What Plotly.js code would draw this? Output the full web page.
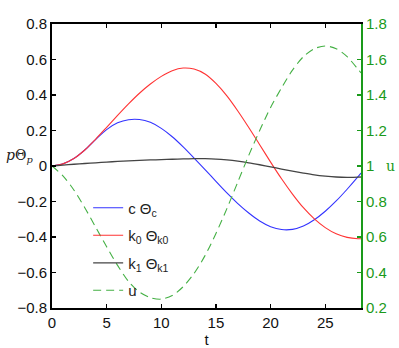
<!DOCTYPE html>
<html>
<head>
<meta charset="utf-8">
<script src="https://cdn.plot.ly/plotly-3.0.1.min.js"></script>
<style>html,body{margin:0;padding:0;background:#fff;}#chart{width:399px;height:348px;}</style>
</head>
<body>
<div id="chart"></div>
<script>
const t = [0,1,2,3,4,5,6,7,8,9,10,11,12,13,14,15,16,17,18,19,20,21,22,23,24,25,26,27,28,28.27];
const cTheta = [0,0.012,0.042,0.09,0.15,0.205,0.243,0.261,0.262,0.246,0.212,0.165,0.108,0.045,-0.02,-0.087,-0.152,-0.212,-0.265,-0.31,-0.342,-0.358,-0.357,-0.338,-0.303,-0.255,-0.197,-0.131,-0.06,-0.04];
const k0Theta = [0,0.012,0.042,0.09,0.152,0.218,0.285,0.35,0.41,0.462,0.505,0.537,0.552,0.546,0.518,0.465,0.395,0.31,0.217,0.12,0.022,-0.072,-0.158,-0.235,-0.298,-0.347,-0.382,-0.402,-0.41,-0.41];
const k1Theta = [0,0.005,0.01,0.014,0.018,0.022,0.026,0.029,0.032,0.034,0.036,0.038,0.04,0.041,0.041,0.039,0.034,0.027,0.018,0.007,-0.005,-0.017,-0.029,-0.04,-0.05,-0.057,-0.062,-0.064,-0.063,-0.062];
const u = [1.0,0.945,0.865,0.765,0.655,0.545,0.44,0.35,0.29,0.258,0.25,0.27,0.32,0.395,0.495,0.62,0.76,0.91,1.06,1.20,1.33,1.44,1.54,1.616,1.661,1.676,1.661,1.616,1.545,1.525];
const names = ["c Θ<sub>c</sub>","k<sub>0</sub> Θ<sub>k0</sub>","k<sub>1</sub> Θ<sub>k1</sub>","u"];
const xTicks = [0,5,10,15,20,25];
const yTicks = [-0.8,-0.6,-0.4,-0.2,0,0.2,0.4,0.6,0.8];
const y2Ticks = [0.2,0.4,0.6,0.8,1,1.2,1.4,1.6,1.8];

const green = '#1a9a1a';
const traces = [
  {x:t, y:cTheta, name:names[0], legendgroup:'a', mode:'lines', line:{color:'#3333ff', width:1.1, shape:'spline', smoothing:0.8}},
  {x:t, y:k0Theta, name:names[1], legendgroup:'b', mode:'lines', line:{color:'#ff3333', width:1.1, shape:'spline', smoothing:0.8}},
  {x:t, y:k1Theta, name:names[2], legendgroup:'c', mode:'lines', line:{color:'#444444', width:1.3, shape:'spline', smoothing:0.8}},
  {x:t, y:u, name:names[3], legendgroup:'d', mode:'lines', yaxis:'y2', line:{color:'#44b044', width:1.1, dash:'8px,5px', shape:'spline', smoothing:0.8}}
];
const tickFont = {family:'Liberation Sans, Arial, sans-serif', size:15, color:'#111'};
const layout = {
  width:399, height:348,
  margin:{l:52, r:38, t:24, b:40},
  paper_bgcolor:'#fff', plot_bgcolor:'#fff',
  showlegend:true,
  legend:{x:0.117, y:0.41, xanchor:'left', yanchor:'top', bgcolor:'rgba(0,0,0,0)', borderwidth:0,
          tracegroupgap:5,
          font:{family:'Liberation Sans, Arial, sans-serif', size:15, color:'#222'}},
  xaxis:{range:[0,28.27], tickvals:xTicks, ticks:'inside', ticklen:4, tickwidth:1.2, tickcolor:'#000',
         showline:true, linewidth:2, linecolor:'#000', mirror:'ticks', showgrid:false, zeroline:false,
         tickfont:tickFont,
         title:{text:'t', font:{family:'Liberation Sans, Arial, sans-serif', size:15, color:'#111'}, standoff:5}},
  yaxis:{range:[-0.8,0.8], tickvals:yTicks, ticks:'inside', ticklen:4, tickwidth:1.2, tickcolor:'#000',
         showline:true, linewidth:2, linecolor:'#000', showgrid:false, zeroline:false, tickfont:tickFont},
  yaxis2:{range:[0.2,1.8], tickvals:y2Ticks, overlaying:'y', side:'right', ticks:'inside', ticklen:4, tickwidth:1.2,
          tickcolor:green, showline:true, linewidth:2, linecolor:green, showgrid:false, zeroline:false,
          tickfont:{family:'Liberation Sans, Arial, sans-serif', size:15, color:green}},
  annotations:[
    {xref:'paper', yref:'paper', x:-0.155, y:0.535, xanchor:'left', yanchor:'middle', showarrow:false,
     text:'<i>p</i>Θ<sub><i>p</i></sub>', font:{family:'DejaVu Serif, Liberation Serif, serif', size:14, color:'#222'}},
    {xref:'paper', yref:'paper', x:1.075, y:0.5, xanchor:'left', yanchor:'middle', showarrow:false,
     text:'u', font:{family:'DejaVu Serif, Liberation Serif, serif', size:14, color:green}}
  ]
};
Plotly.newPlot('chart', traces, layout, {displayModeBar:false, staticPlot:true});
</script>
</body>
</html>
